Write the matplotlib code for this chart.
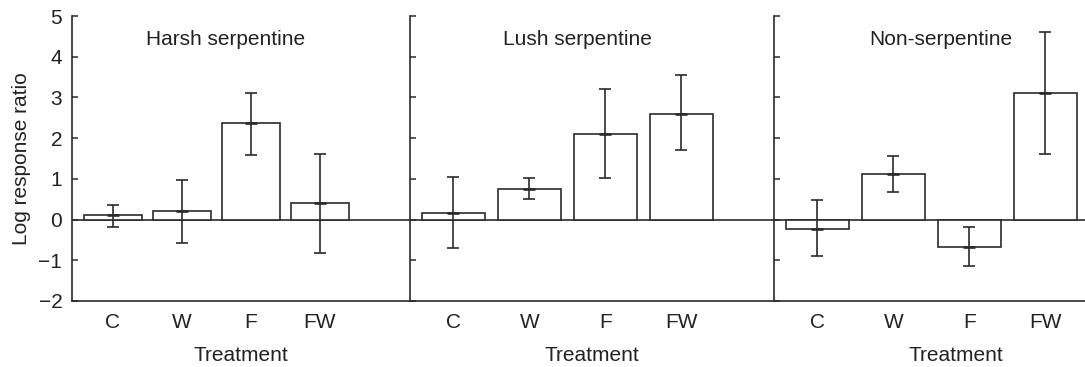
import matplotlib
matplotlib.use("Agg")
import matplotlib.pyplot as plt
import numpy as np

plt.rcParams['font.family'] = ['Liberation Sans', 'DejaVu Sans']

treatments = ["C", "W", "F", "FW"]
panel_titles = ["Harsh serpentine", "Lush serpentine", "Non-serpentine"]

harsh_mean = [0.10, 0.20, 2.36, 0.40]
harsh_upper = [0.37, 0.98, 3.10, 1.62]
harsh_lower = [-0.18, -0.58, 1.59, -0.83]

lush_mean = [0.15, 0.75, 2.11, 2.60]
lush_upper = [1.05, 1.01, 3.21, 3.55]
lush_lower = [-0.71, 0.51, 1.03, 1.70]

non_mean = [-0.22, 1.11, -0.67, 3.10]
non_upper = [0.47, 1.55, -0.18, 4.61]
non_lower = [-0.90, 0.67, -1.15, 1.60]

means = [harsh_mean, lush_mean, non_mean]
uppers = [harsh_upper, lush_upper, non_upper]
lowers = [harsh_lower, lush_lower, non_lower]

yticks = [-2, -1, 0, 1, 2, 3, 4, 5]

W, H = 1085, 367
fig = plt.figure(figsize=(W / 100, H / 100), dpi=100)
ink = '#2b2b2b'
txt = '#222222'
fs = 15

boxes = [(72, 338), (410, 364), (774, 364)]
xlims = [(-0.594, 4.306), (-0.57, 4.22), (-0.57, 4.22)]
bottom_px, top_px = 301, 16

for i in range(3):
    l, w = boxes[i]
    ax = fig.add_axes([l / W, (H - bottom_px) / H, w / W, (bottom_px - top_px) / H])
    x = np.arange(len(treatments))
    m = np.array(means[i])
    up = np.array(uppers[i])
    lo = np.array(lowers[i])
    ax.bar(x, m, width=0.83, color='white', edgecolor=ink, linewidth=1.2, zorder=2)
    ax.errorbar(x, m, yerr=[m - lo, up - m], fmt='none', ecolor=ink,
                elinewidth=1.2, capsize=4.3, capthick=1.2, zorder=3)
    ax.plot(x, m, linestyle='none', marker='_', markersize=9, markeredgewidth=1.9,
            color=ink, zorder=4)
    ax.axhline(0, color=ink, linewidth=1.2, zorder=1)
    ax.set_xlim(*xlims[i])
    ax.set_ylim(-2, 5)
    ax.set_yticks(yticks)
    ax.set_xticks(x)
    ax.set_xticklabels(treatments, fontsize=fs, color=txt)
    ax.tick_params(axis='x', length=0, pad=9)
    ax.tick_params(axis='y', direction='in', length=4, width=1.1, color=ink, pad=7,
                   labelsize=fs, labelcolor=txt)
    if i > 0:
        ax.tick_params(axis='y', labelleft=False)
    else:
        ax.set_yticklabels([("\u2212" + str(-t)) if t < 0 else str(t) for t in yticks])
        ax.set_ylabel("Log response ratio", fontsize=fs, color=txt, labelpad=5)
    for s in ['top', 'right']:
        ax.spines[s].set_visible(False)
    for s in ['left', 'bottom']:
        ax.spines[s].set_color(ink)
        ax.spines[s].set_linewidth(1.2)
    ax.set_xlabel("Treatment", fontsize=fs, color=txt, labelpad=10)
    ax.text(1.63, 4.42, panel_titles[i], ha='center', va='center', fontsize=fs,
            color=txt)
    ax.patch.set_alpha(0)

fig.savefig("out.png", dpi=100)
